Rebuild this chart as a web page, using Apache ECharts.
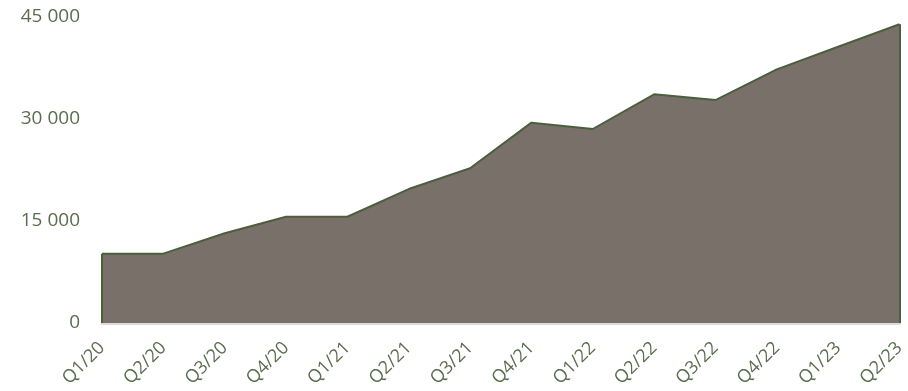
<!DOCTYPE html>
<html><head><meta charset="utf-8">
<script src="https://cdn.jsdelivr.net/npm/echarts@6/dist/echarts.min.js"></script>
<style>html,body{margin:0;padding:0;background:#fff}#c{width:908px;height:391px}</style>
</head><body><div id="c"></div>
<script>
const categories = ['Q1/20','Q2/20','Q3/20','Q4/20','Q1/21','Q2/21','Q3/21','Q4/21','Q1/22','Q2/22','Q3/22','Q4/22','Q1/23','Q2/23'];
const values = [10200,10200,13190,15630,15630,19700,22750,29460,28530,33630,32790,37300,40630,43930];
const yTicks = [0,15000,30000,45000];
const chart = echarts.init(document.getElementById('c'));
const txt = '#5a6d4f';
const last = values.length - 1;
chart.setOption({
  animation:false,
  grid:{left:102,right:7,top:17,bottom:68},
  xAxis:{type:'category',data:categories,boundaryGap:false,
    axisLine:{lineStyle:{color:'#dcdcdc',width:3}},axisTick:{show:false},
    axisLabel:{rotate:45,color:txt,fontFamily:'Open Sans',fontSize:18,margin:22}},
  yAxis:{type:'value',min:0,max:45000,interval:15000,
    splitLine:{show:false},axisLine:{show:false},axisTick:{show:false},
    axisLabel:{color:txt,fontFamily:'Open Sans',fontSize:19,margin:22,
      formatter:v=>yTicks.includes(v)?String(v).replace(/\B(?=(\d{3})+(?!\d))/g,' '):''}},
  series:[{type:'line',data:values,symbol:'none',
    lineStyle:{color:'#4b5e3e',width:2},
    areaStyle:{color:'#797069',opacity:1},
    markLine:{silent:true,symbol:'none',label:{show:false},
      lineStyle:{color:'#4b5e3e',width:2,type:'solid'},
      data:[[{coord:[0,0]},{coord:[0,values[0]]}],[{coord:[last,0]},{coord:[last,values[last]]}]]}}]
});
</script></body></html>
